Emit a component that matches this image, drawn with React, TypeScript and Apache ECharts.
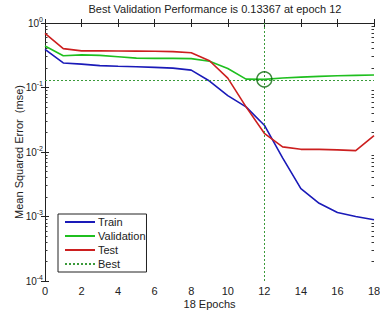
import React, { useEffect, useRef } from "react";
import * as echarts from "echarts";

const epochs = [0, 1, 2, 3, 4, 5, 6, 7, 8, 9, 10, 11, 12, 13, 14, 15, 16, 17, 18];
const train = [0.39, 0.24, 0.23, 0.218, 0.213, 0.21, 0.205, 0.2, 0.186, 0.126, 0.075, 0.05, 0.026, 0.0081, 0.0027, 0.0016, 0.00115, 0.001, 0.00089];
const validation = [0.44, 0.31, 0.32, 0.315, 0.3, 0.285, 0.283, 0.283, 0.28, 0.256, 0.197, 0.135, 0.13367, 0.14, 0.145, 0.149, 0.152, 0.154, 0.156];
const test = [0.69, 0.4, 0.37, 0.37, 0.368, 0.366, 0.364, 0.36, 0.345, 0.26, 0.14, 0.05, 0.0195, 0.012, 0.011, 0.011, 0.0108, 0.0105, 0.018];
const bestEpoch = 12;
const bestValue = 0.13367;
const titleText = "Best Validation Performance is 0.13367 at epoch 12";
const xName = "18 Epochs";
const yName = "Mean Squared Error  (mse)";
const legendNames = ["Train", "Validation", "Test", "Best"];

const FONT = "Arial, 'Liberation Sans', Helvetica, sans-serif";

export default function App() {
  const ref = useRef<HTMLDivElement>(null);
  useEffect(() => {
    document.body.style.margin = "0";
    if (!ref.current) return;
    const chart = echarts.init(ref.current, null, { renderer: "svg" });
    const minorVals: number[] = [];
    for (let k = -4; k < 0; k++) {
      for (let m = 2; m <= 9; m++) minorVals.push(Math.log10(m) + k);
    }
    const pair = (arr: number[]) => epochs.map((e, i) => [e, arr[i]]);
    const logLabel = (v: number) => {
      const e = Math.round(Math.log10(v));
      return `{b|10}{s|${e}}`;
    };
    const grid = { left: 45, right: 6, top: 23, bottom: 29, outerBoundsMode: "none", containLabel: false };
    const option: any = {
      animation: false,
      backgroundColor: "#fff",
      textStyle: { fontFamily: FONT },
      title: {
        text: titleText,
        left: 210,
        textAlign: "center",
        top: 0,
        padding: [3, 5, 3, 5],
        textStyle: { fontSize: 11, fontWeight: "normal", color: "#222", fontFamily: FONT },
      },
      grid,
      legend: {
        data: legendNames,
        orient: "vertical",
        left: 58,
        top: 214,
        padding: [2, 1, 2, 6],
        itemGap: 2,
        itemWidth: 30,
        itemHeight: 12,
        backgroundColor: "#fff",
        borderColor: "#222",
        borderWidth: 1,
        borderRadius: 0,
        itemStyle: { color: "rgba(0,0,0,0)", borderWidth: 0, borderColor: "rgba(0,0,0,0)" },
        textStyle: { fontSize: 11, color: "#222", fontFamily: FONT, lineHeight: 12, padding: [0, 0, 0, -2] },
      },
      xAxis: [
        {
          type: "value",
          min: 0,
          max: 18,
          interval: 2,
          name: xName,
          nameLocation: "middle",
          nameGap: 17,
          nameMoveOverlap: false,
          nameTextStyle: { fontSize: 11, color: "#222", fontFamily: FONT },
          axisLine: { lineStyle: { color: "#222", width: 1 } },
          axisTick: { inside: true, length: 4, lineStyle: { color: "#222" } },
          axisLabel: { fontSize: 11, color: "#222", margin: 4, fontFamily: FONT },
          splitLine: { show: false },
        },
        {
          type: "value",
          position: "top",
          min: 0,
          max: 18,
          interval: 2,
          axisLine: { show: true, lineStyle: { color: "#222", width: 1 } },
          axisTick: { inside: true, length: 4, lineStyle: { color: "#222" } },
          axisLabel: { show: false },
          splitLine: { show: false },
        },
      ],
      yAxis: [
        {
          type: "log",
          logBase: 10,
          min: 0.0001,
          max: 1,
          name: yName,
          nameLocation: "middle",
          nameGap: 21,
          nameMoveOverlap: false,
          nameTextStyle: { fontSize: 11, color: "#222", fontFamily: FONT },
          axisLine: { show: true, lineStyle: { color: "#222", width: 1 } },
          axisTick: { inside: true, length: 4, lineStyle: { color: "#222" } },
          axisLabel: {
            formatter: logLabel,
            margin: 2,
            rich: {
              b: { fontSize: 10, color: "#222", fontFamily: FONT },
              s: { fontSize: 7, color: "#222", fontFamily: FONT, padding: [0, 0, 8, 0] },
            },
          },
          splitLine: { show: false },
        },
        {
          type: "log",
          logBase: 10,
          min: 0.0001,
          max: 1,
          position: "right",
          axisLine: { show: true, lineStyle: { color: "#222", width: 1 } },
          axisTick: { inside: true, length: 4, lineStyle: { color: "#222" } },
          axisLabel: { show: false },
          splitLine: { show: false },
        },
        {
          type: "value",
          min: -4,
          max: 0,
          position: "left",
          axisLine: { show: false },
          axisTick: { show: true, inside: true, length: 2.5, customValues: minorVals, lineStyle: { color: "#333" } },
          axisLabel: { show: false },
          splitLine: { show: false },
        },
        {
          type: "value",
          min: -4,
          max: 0,
          position: "right",
          axisLine: { show: false },
          axisTick: { show: true, inside: true, length: 2.5, customValues: minorVals, lineStyle: { color: "#333" } },
          axisLabel: { show: false },
          splitLine: { show: false },
        },
      ],
      series: [
        {
          name: "Train",
          type: "line",
          data: pair(train),
          symbol: "none",
          lineStyle: { color: "#1a1ab8", width: 1.6 },
          itemStyle: { color: "#1a1ab8" },
        },
        {
          name: "Validation",
          type: "line",
          data: pair(validation),
          symbol: "none",
          lineStyle: { color: "#1fbf1f", width: 1.6 },
          itemStyle: { color: "#1fbf1f" },
        },
        {
          name: "Test",
          type: "line",
          data: pair(test),
          symbol: "none",
          lineStyle: { color: "#cc1f1f", width: 1.6 },
          itemStyle: { color: "#cc1f1f" },
        },
        {
          name: "Best",
          type: "line",
          data: [],
          symbol: "none",
          lineStyle: { color: "#3a9a3a", width: 1, type: [2, 2] },
          itemStyle: { color: "#3a9a3a" },
          markLine: {
            silent: true,
            symbol: "none",
            label: { show: false },
            lineStyle: { color: "#3a9a3a", width: 1, type: [2, 2] },
            data: [{ yAxis: bestValue }, { xAxis: bestEpoch }],
          },
        },
        {
          name: "BestPoint",
          type: "scatter",
          data: [[bestEpoch, bestValue]],
          symbol: "circle",
          symbolSize: 15,
          itemStyle: { color: "rgba(0,0,0,0)", borderColor: "#0a6a0a", borderWidth: 1.5 },
          silent: true,
          z: 5,
        },
      ],
    };
    chart.setOption(option);
    return () => chart.dispose();
  }, []);
  return <div ref={ref} style={{ width: 380, height: 310 }} />;
}
